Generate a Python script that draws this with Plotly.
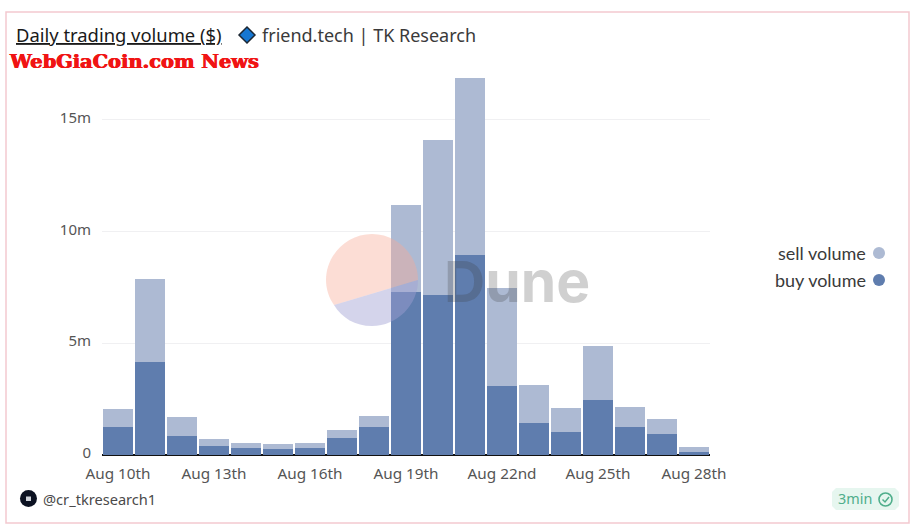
import plotly.graph_objects as go

days = ["Aug 10th","Aug 11th","Aug 12th","Aug 13th","Aug 14th","Aug 15th","Aug 16th","Aug 17th","Aug 18th","Aug 19th",
        "Aug 20th","Aug 21st","Aug 22nd","Aug 23rd","Aug 24th","Aug 25th","Aug 26th","Aug 27th","Aug 28th"]
buy_volume = [1.25e6,4.15e6,0.85e6,0.42e6,0.30e6,0.27e6,0.33e6,0.75e6,1.25e6,7.30e6,
              7.15e6,8.95e6,3.10e6,1.45e6,1.05e6,2.45e6,1.25e6,0.95e6,0.15e6]
sell_volume = [0.80e6,3.72e6,0.85e6,0.30e6,0.25e6,0.20e6,0.19e6,0.35e6,0.50e6,3.88e6,
               6.95e6,7.90e6,4.35e6,1.70e6,1.05e6,2.42e6,0.90e6,0.65e6,0.20e6]
tick_days = ["Aug 10th","Aug 13th","Aug 16th","Aug 19th","Aug 22nd","Aug 25th","Aug 28th"]
y_ticks = [0,5e6,10e6,15e6]
y_labels = ["0","5m","10m","15m"]

W,H = 916,529
L,T,R,B = 102,75,710,455
BUY,SELL = "#5f7dae","#adbad3"
UI = "Noto Sans"
def px(x): return (x-L)/(R-L)
def py(y): return (B-y)/(B-T)
def pth(points):
    return "M"+" L".join(f"{px(a):.5f},{py(b):.5f}" for a,b in points)+" Z"
def curve(start,segs):
    s = f"M{px(start[0]):.5f},{py(start[1]):.5f}"
    for seg in segs:
        s += " C"+" ".join(f"{px(a):.5f},{py(b):.5f}" for a,b in seg)
    return s+" Z"

fig = go.Figure()
fig.add_bar(x=days,y=buy_volume,name="buy volume",marker=dict(color=BUY,line_width=0))
fig.add_bar(x=days,y=sell_volume,name="sell volume",marker=dict(color=SELL,line_width=0))

def shape(**k):
    d = dict(xref="paper",yref="paper")
    d.update(k)
    fig.add_shape(**d)
def text(x,y,t,size,color,font=UI,anchor="left",**kw):
    fig.add_annotation(x=px(x),y=py(y),xref="paper",yref="paper",text=t,showarrow=False,xanchor=anchor,yanchor="middle",
                       borderpad=0,font=dict(family=font,size=size,color=color,**kw))

# card frame
shape(type="rect",x0=px(6),x1=px(909),y0=py(12),y1=py(523),line=dict(color="#f3c9cf",width=1.5),layer="below")
# title
text(15,35,"<u>Daily trading volume ($)</u>",18.4,"#1a1a1a")
shape(type="path",path=pth([(247,27),(255,35),(247,43),(239,35)]),fillcolor="#1677d2",line=dict(color="#1c2733",width=1.5))
text(261,35,"friend.tech | TK Research",18,"#3a3a3a")
text(8,61,"<b>WebGiaCoin.com News</b>",19.4,"#f01414","DejaVu Serif",shadow="0.6px 0 #f01414, -0.4px 0 #f01414")

# Dune watermark
shape(type="path",path=curve((334,305),[[(329,298),(326,289),(326,280)],[(326,255),(347,234),(372,234)],[(397,234),(418,255),(418,280)]]),
      fillcolor="rgba(248,170,150,0.40)",line_width=0,layer="above")
shape(type="path",path=curve((418,280),[[(418,305),(397,326),(372,326)],[(355,326),(342,318),(334,305)]]),
      fillcolor="rgba(160,160,210,0.45)",line_width=0,layer="above")
fig.add_annotation(x=px(517),y=py(281),xref="paper",yref="paper",text="<b>Dune</b>",showarrow=False,xanchor="center",yanchor="middle",
                   font=dict(family="Inter",size=57,color="rgba(60,60,60,0.24)"))

# legend
text(867,253,"sell volume",18,"#3a3a3a","Lato","right")
text(867,280,"buy volume",18,"#3a3a3a","Lato","right")
shape(type="circle",x0=px(873),x1=px(885),y0=py(247),y1=py(259),fillcolor=SELL,line_width=0)
shape(type="circle",x0=px(873),x1=px(885),y0=py(274),y1=py(286),fillcolor=BUY,line_width=0)

# footer
shape(type="circle",x0=px(20),x1=px(37),y0=py(490),y1=py(507),fillcolor="#0c1222",line_width=0)
shape(type="rect",x0=px(26),x1=px(31),y0=py(496.5),y1=py(501),fillcolor="#cfd3da",line_width=0)
text(42,499,"@cr_tkresearch1",14.6,"#4a4a4a")
shape(type="path",path=pth([(836,488),(895,488),(899,492),(899,506),(895,510),(836,510),(832,506),(832,492)]),fillcolor="#e6f6ef",line_width=0)
text(837,499,"3min",14.4,"#4fae8b")
shape(type="circle",x0=px(879),x1=px(892),y0=py(493),y1=py(506),line=dict(color="#4fae8b",width=1.6))
shape(type="path",path=f"M{px(882.5):.5f},{py(499.5):.5f} L{px(885):.5f},{py(502):.5f} L{px(889):.5f},{py(497):.5f}",line=dict(color="#4fae8b",width=1.5))

fig.update_layout(
    barmode="stack",bargap=0.09,width=W,height=H,showlegend=False,
    paper_bgcolor="white",plot_bgcolor="white",
    margin=dict(l=L,r=W-R,t=T,b=H-B),
    font=dict(family=UI,size=15,color="#555555"),
    xaxis=dict(type="category",categoryorder="array",categoryarray=days,range=[-0.5,18.5],tickmode="array",tickvals=tick_days,ticktext=tick_days,
               tickangle=0,ticks="",showgrid=False,showline=False,zeroline=False,tickfont=dict(size=15.3,color="#555555"),ticklabelstandoff=8),
    yaxis=dict(range=[0,17e6],tickmode="array",tickvals=y_ticks,ticktext=y_labels,ticks="",gridcolor="#f0f0f2",gridwidth=1,
               zeroline=True,zerolinecolor="#111111",zerolinewidth=2,showline=False,tickfont=dict(size=15,color="#555555"),ticklabelstandoff=10,ticklabelshift=-2),
)
fig.write_html("out.html",config=dict(displayModeBar=False),post_script="document.body.style.margin='0';")
